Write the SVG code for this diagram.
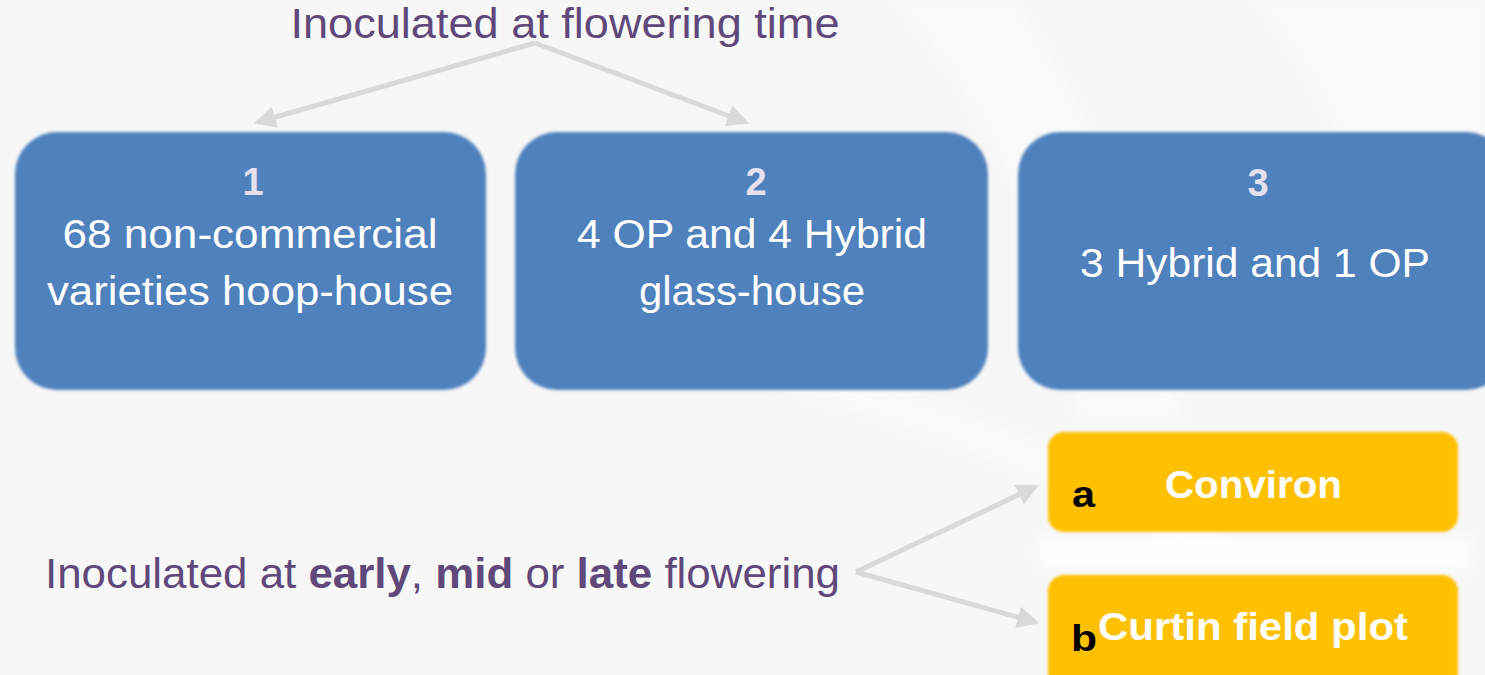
<svg xmlns="http://www.w3.org/2000/svg" width="1485" height="675" viewBox="0 0 1485 675">
  <style>
    .bg { fill: #f7f7f7; }
    .blue { fill: #4f81bd; }
    .gold { fill: #ffc000; }
    .txt { font-family: "Liberation Sans", Arial, sans-serif; }
    .purple { fill: #5f497a; font-size: 42px; }
    .num { fill: #e4e0ee; font-size: 38px; font-weight: bold; text-anchor: middle; }
    .body { fill: #ffffff; font-size: 40px; text-anchor: middle; }
    .gtxt { fill: #ffffff; font-size: 39px; font-weight: bold; }
    .letter { fill: #000000; font-size: 36px; font-weight: bold; }
    .conn { stroke: #d9d9d9; stroke-width: 5; fill: none; }
  </style>
  <defs>
    <filter id="soft" x="-5%" y="-5%" width="110%" height="110%">
      <feGaussianBlur stdDeviation="1.6"/>
    </filter>
    <filter id="haze" x="-20%" y="-20%" width="140%" height="140%">
      <feGaussianBlur stdDeviation="6"/>
    </filter>
    <marker id="head" viewBox="0 0 10 10" refX="8" refY="5" markerWidth="4.4" markerHeight="4.4" orient="auto" markerUnits="strokeWidth">
      <path d="M0,0 L10,5 L0,10 z" fill="#d9d9d9"/>
    </marker>
  </defs>

  <!-- page background with faint watermark sweeps -->
  <rect class="bg" x="0" y="0" width="1485" height="675"/>
  <g fill="#ffffff" opacity="0.45" filter="url(#haze)">
    <path d="M900,0 C1000,120 1060,260 1080,420 L1180,420 C1150,260 1090,110 1010,0 z"/>
    <path d="M1260,0 C1330,90 1380,200 1400,330 L1485,330 L1485,0 z"/>
    <path d="M760,380 C900,420 1050,470 1200,560 L1230,540 C1080,450 930,400 780,360 z"/>
  </g>
  <rect x="1040" y="538" width="430" height="32" fill="#ffffff" opacity="0.8" filter="url(#haze)"/>

  <!-- connectors -->
  <g id="connectors">
    <path class="conn" d="M535,43 L258,122" marker-end="url(#head)"/>
    <path class="conn" d="M535,43 L745,122" marker-end="url(#head)"/>
    <path class="conn" d="M856,572 L1035,487" marker-end="url(#head)"/>
    <path class="conn" d="M856,572 L1035,622" marker-end="url(#head)"/>
  </g>

  <g id="title">
    <text class="txt purple" x="565" y="38" text-anchor="middle" textLength="549" lengthAdjust="spacingAndGlyphs">Inoculated at flowering time</text>
  </g>

  <g id="node1">
    <rect class="blue" x="15" y="132" width="471" height="258" rx="42" filter="url(#soft)"/>
    <text class="txt num" x="253" y="195">1</text>
    <text class="txt body" x="250" y="248" textLength="375" lengthAdjust="spacingAndGlyphs">68 non-commercial</text>
    <text class="txt body" x="250" y="305" textLength="406" lengthAdjust="spacingAndGlyphs">varieties hoop-house</text>
  </g>

  <g id="node2">
    <rect class="blue" x="515" y="132" width="473" height="258" rx="42" filter="url(#soft)"/>
    <text class="txt num" x="756" y="195">2</text>
    <text class="txt body" x="752" y="248" textLength="350" lengthAdjust="spacingAndGlyphs">4 OP and 4 Hybrid</text>
    <text class="txt body" x="752" y="305" textLength="226" lengthAdjust="spacingAndGlyphs">glass-house</text>
  </g>

  <g id="node3">
    <rect class="blue" x="1018" y="132" width="490" height="258" rx="42" filter="url(#soft)"/>
    <text class="txt num" x="1258" y="196">3</text>
    <text class="txt body" x="1255" y="277" textLength="350" lengthAdjust="spacingAndGlyphs">3 Hybrid and 1 OP</text>
  </g>

  <g id="timing">
    <text class="txt purple" x="45" y="588" textLength="795" lengthAdjust="spacingAndGlyphs">Inoculated at <tspan font-weight="bold">early</tspan>, <tspan font-weight="bold">mid</tspan> or <tspan font-weight="bold">late</tspan> flowering</text>
  </g>

  <g id="nodeA">
    <rect class="gold" x="1048" y="432" width="410" height="100" rx="16" filter="url(#soft)"/>
    <text class="txt letter" x="1072" y="507" textLength="23" lengthAdjust="spacingAndGlyphs">a</text>
    <text class="txt gtxt" x="1165" y="498" textLength="177" lengthAdjust="spacingAndGlyphs">Conviron</text>
  </g>

  <g id="nodeB">
    <rect class="gold" x="1048" y="575" width="410" height="115" rx="16" filter="url(#soft)"/>
    <text class="txt letter" x="1071" y="651" textLength="26" lengthAdjust="spacingAndGlyphs">b</text>
    <text class="txt gtxt" x="1098" y="640" textLength="310" lengthAdjust="spacingAndGlyphs">Curtin field plot</text>
  </g>
</svg>
